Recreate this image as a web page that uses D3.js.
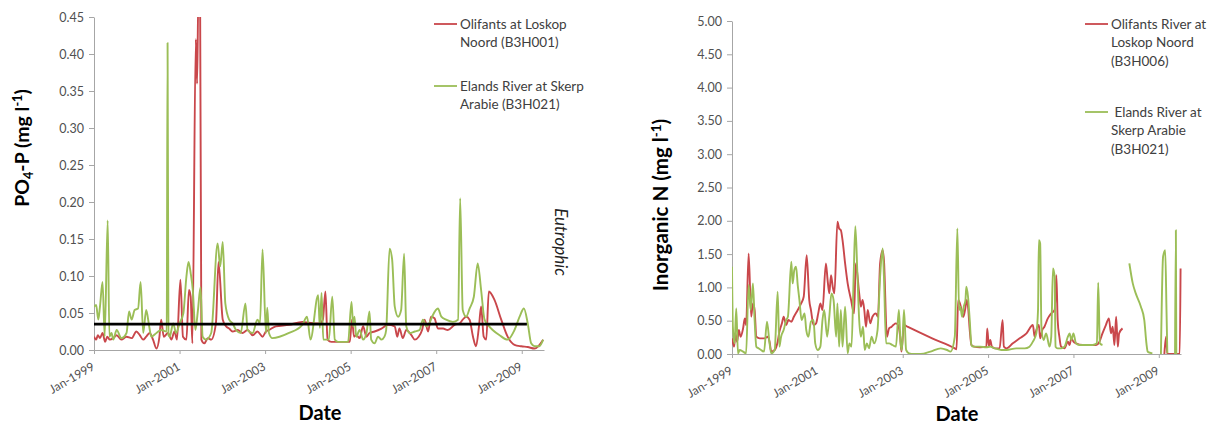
<!DOCTYPE html>
<html><head><meta charset="utf-8">
<script src="https://cdn.jsdelivr.net/npm/d3@7"></script>
<style>
body{margin:0;background:#fff}
svg{display:block}
text{font-family:Lato,"Open Sans","Liberation Sans",sans-serif}
</style>
</head><body>
<svg id="c" width="1214" height="430"></svg>
<script>
// ---------- DATA ----------
const xTickYears = [1999, 2001, 2003, 2005, 2007, 2009];
const xTickLabels = ["Jan-1999", "Jan-2001", "Jan-2003", "Jan-2005", "Jan-2007", "Jan-2009"];
const xDomain = [1999, 2009.52];
const po4Ticks = [0, 0.05, 0.10, 0.15, 0.20, 0.25, 0.30, 0.35, 0.40, 0.45];
const nTicks = [0, 0.5, 1.0, 1.5, 2.0, 2.5, 3.0, 3.5, 4.0, 4.5, 5.0];
const eutrophicLevel = 0.035;
const eutrophicSpan = [1999, 2009.12];

const po4LegendRed = ["Olifants at Loskop", "Noord (B3H001)"];
const po4LegendGreen = ["Elands River at Skerp", "Arabie (B3H021)"];
const nLegendRed = ["Olifants River at", "Loskop Noord", "(B3H006)"];
const nLegendGreen = [" Elands River at", "Skerp Arabie", "(B3H021)"];

// PO4-P, Olifants at Loskop Noord (B3H001)  [decimal year, mg/l]
const po4Olifants = [[1999.00,0.018],[1999.05,0.014],[1999.09,0.020],[1999.14,0.016],[1999.20,0.023],[1999.26,0.011],[1999.31,0.018],[1999.37,0.014],[1999.45,0.016],[1999.53,0.020],[1999.64,0.014],[1999.76,0.018],[1999.88,0.016],[1999.99,0.025],[2000.07,0.020],[2000.15,0.014],[2000.22,0.018],[2000.30,0.023],[2000.38,0.014],[2000.46,0.002],[2000.53,0.018],[2000.57,0.041],[2000.63,0.018],[2000.73,0.023],[2000.81,0.014],[2000.88,0.025],[2000.94,0.014],[2001.02,0.095],[2001.08,0.018],[2001.16,0.014],[2001.22,0.081],[2001.26,0.072],[2001.30,0.009],[2001.38,0.420],[2001.41,0.360],[2001.44,0.480],[2001.48,0.480],[2001.51,0.014],[2001.58,0.009],[2001.66,0.016],[2001.74,0.014],[2001.85,0.036],[2001.91,0.119],[2002.01,0.041],[2002.09,0.032],[2002.16,0.029],[2002.24,0.025],[2002.36,0.027],[2002.47,0.023],[2002.59,0.027],[2002.71,0.020],[2002.82,0.025],[2002.94,0.018],[2003.02,0.025],[2003.09,0.027],[2003.25,0.032],[2003.56,0.034],[2003.87,0.038],[2004.02,0.037],[2004.16,0.036],[2004.28,0.036],[2004.35,0.041],[2004.41,0.079],[2004.46,0.014],[2004.55,0.011],[2004.71,0.011],[2004.98,0.011],[2005.03,0.041],[2005.08,0.018],[2005.13,0.020],[2005.21,0.016],[2005.29,0.032],[2005.37,0.018],[2005.44,0.023],[2005.56,0.025],[2005.72,0.029],[2005.87,0.034],[2006.03,0.032],[2006.09,0.018],[2006.14,0.029],[2006.22,0.016],[2006.30,0.027],[2006.42,0.020],[2006.50,0.014],[2006.59,0.018],[2006.67,0.027],[2006.73,0.041],[2006.81,0.025],[2006.88,0.045],[2006.96,0.043],[2007.04,0.029],[2007.16,0.029],[2007.27,0.027],[2007.43,0.034],[2007.55,0.036],[2007.62,0.041],[2007.70,0.045],[2007.78,0.041],[2007.86,0.018],[2007.93,0.005],[2008.00,0.032],[2008.05,0.059],[2008.11,0.018],[2008.17,0.014],[2008.23,0.079],[2008.36,0.068],[2008.52,0.041],[2008.67,0.018],[2008.83,0.007],[2008.99,0.005],[2009.14,0.004],[2009.30,0.002],[2009.50,0.014]];

// PO4-P, Elands River at Skerp Arabie (B3H021)
const po4Elands = [[1999.00,0.058],[1999.05,0.061],[1999.10,0.041],[1999.14,0.059],[1999.20,0.092],[1999.25,0.018],[1999.32,0.175],[1999.36,0.018],[1999.41,0.023],[1999.45,0.014],[1999.53,0.027],[1999.64,0.016],[1999.76,0.023],[1999.82,0.052],[1999.88,0.041],[1999.95,0.054],[2000.03,0.056],[2000.09,0.092],[2000.15,0.023],[2000.22,0.054],[2000.29,0.032],[2000.34,0.018],[2000.46,0.023],[2000.57,0.027],[2000.70,0.025],[2000.72,0.415],[2000.74,0.020],[2000.77,0.018],[2000.85,0.036],[2000.92,0.023],[2001.00,0.036],[2001.09,0.050],[2001.16,0.099],[2001.21,0.119],[2001.26,0.104],[2001.31,0.081],[2001.37,0.027],[2001.43,0.054],[2001.49,0.085],[2001.54,0.018],[2001.62,0.014],[2001.74,0.023],[2001.89,0.144],[2001.95,0.113],[2002.01,0.146],[2002.07,0.063],[2002.16,0.041],[2002.24,0.036],[2002.32,0.027],[2002.43,0.023],[2002.54,0.063],[2002.59,0.027],[2002.71,0.023],[2002.82,0.041],[2002.88,0.036],[2002.94,0.136],[2003.02,0.023],[2003.05,0.057],[2003.09,0.023],[2003.17,0.016],[2003.56,0.023],[2003.87,0.034],[2003.98,0.045],[2004.06,0.014],[2004.24,0.074],[2004.28,0.030],[2004.32,0.077],[2004.36,0.014],[2004.49,0.014],[2004.57,0.072],[2004.63,0.014],[2004.71,0.011],[2004.94,0.011],[2005.02,0.065],[2005.06,0.032],[2005.09,0.045],[2005.13,0.018],[2005.21,0.027],[2005.29,0.014],[2005.37,0.023],[2005.44,0.052],[2005.48,0.014],[2005.56,0.009],[2005.64,0.018],[2005.72,0.014],[2005.79,0.018],[2005.83,0.027],[2005.91,0.137],[2005.97,0.122],[2006.03,0.059],[2006.11,0.045],[2006.18,0.054],[2006.25,0.130],[2006.30,0.032],[2006.38,0.023],[2006.50,0.025],[2006.61,0.027],[2006.69,0.041],[2006.77,0.032],[2006.84,0.036],[2006.92,0.047],[2007.04,0.056],[2007.12,0.045],[2007.23,0.041],[2007.39,0.038],[2007.51,0.041],[2007.56,0.205],[2007.62,0.054],[2007.70,0.045],[2007.78,0.056],[2007.88,0.072],[2007.97,0.117],[2008.05,0.081],[2008.13,0.041],[2008.21,0.034],[2008.32,0.027],[2008.48,0.020],[2008.67,0.014],[2008.83,0.027],[2008.95,0.045],[2009.05,0.056],[2009.14,0.036],[2009.22,0.009],[2009.30,0.005],[2009.41,0.005],[2009.50,0.014]];

// Inorganic N, Olifants River at Loskop Noord (B3H006)  (null = gap)
const nOlifants = [[1999.00,0.235],[1999.05,0.11],[1999.08,0.31],[1999.12,0.185],[1999.16,0.36],[1999.20,0.26],[1999.26,0.385],[1999.30,0.535],[1999.33,0.435],[1999.39,1.51],[1999.45,0.56],[1999.49,0.76],[1999.53,0.66],[1999.57,0.26],[1999.65,0.235],[1999.76,0.235],[1999.84,0.26],[1999.88,0.185],[1999.92,0.035],[2000.00,0.06],[2000.07,0.185],[2000.11,0.335],[2000.17,0.46],[2000.21,0.56],[2000.27,0.435],[2000.32,0.51],[2000.39,0.485],[2000.45,0.56],[2000.54,0.66],[2000.62,0.76],[2000.68,0.86],[2000.75,1.485],[2000.81,0.81],[2000.85,0.66],[2000.91,0.435],[2000.97,0.46],[2001.02,0.61],[2001.07,0.76],[2001.12,0.66],[2001.20,1.36],[2001.24,1.11],[2001.28,0.91],[2001.32,1.185],[2001.36,1.01],[2001.40,0.91],[2001.47,1.985],[2001.51,1.885],[2001.55,1.86],[2001.59,1.71],[2001.65,1.36],[2001.71,1.06],[2001.79,0.81],[2001.86,0.61],[2001.90,1.36],[2001.98,0.91],[2002.02,0.71],[2002.06,0.81],[2002.10,0.66],[2002.14,0.41],[2002.18,0.66],[2002.24,0.46],[2002.29,0.56],[2002.37,0.61],[2002.42,0.56],[2002.47,1.36],[2002.53,1.56],[2002.56,1.41],[2002.63,0.26],[2002.68,0.385],[2002.74,0.41],[2002.78,0.435],[2002.84,0.46],[2002.89,0.435],[2002.94,0.26],[2002.97,0.035],[2003.03,0.435],[2003.11,0.41],[2003.69,0.235],[2004.22,0.085],[2004.26,0.07],[2004.30,0.81],[2004.34,0.76],[2004.38,0.66],[2004.42,0.56],[2004.46,0.66],[2004.50,0.81],[2004.53,0.71],[2004.57,0.36],[2004.61,0.135],[2004.67,0.11],[2004.81,0.10],[2004.96,0.11],[2004.98,0.385],[2005.02,0.11],[2005.05,0.21],[2005.09,0.11],[2005.16,0.085],[2005.27,0.085],[2005.34,0.51],[2005.37,0.11],[2005.43,0.085],[2005.58,0.16],[2005.74,0.235],[2005.90,0.31],[2006.05,0.435],[2006.09,0.26],[2006.13,0.36],[2006.19,0.435],[2006.22,0.235],[2006.27,0.36],[2006.32,0.41],[2006.40,0.535],[2006.48,0.61],[2006.56,0.66],[2006.60,1.185],[2006.63,0.51],[2006.67,0.26],[2006.71,0.11],[2006.79,0.085],[2006.87,0.185],[2006.91,0.135],[2006.95,0.235],[2007.00,0.185],[2007.06,0.16],[2007.22,0.135],[2007.37,0.135],[2007.53,0.135],[2007.61,0.185],[2007.68,0.31],[2007.76,0.435],[2007.83,0.535],[2007.88,0.31],[2007.92,0.41],[2007.96,0.135],[2008.00,0.56],[2008.04,0.11],[2008.07,0.31],[2008.15,0.385],[2008.50,null],[2009.13,0.0],[2009.17,0.26],[2009.20,0.0],[2009.49,0.0],[2009.51,1.285]];

// Inorganic N, Elands River at Skerp Arabie (B3H021)
const nElands = [[1999.00,1.31],[1999.02,0.41],[1999.06,0.16],[1999.10,0.685],[1999.14,0.01],[1999.18,0.06],[1999.26,0.035],[1999.33,0.01],[1999.39,1.035],[1999.44,0.66],[1999.49,1.06],[1999.53,0.51],[1999.57,0.11],[1999.62,0.085],[1999.68,0.06],[1999.75,0.035],[1999.82,0.485],[1999.88,0.16],[1999.92,0.01],[2000.00,0.06],[2000.07,0.935],[2000.11,0.11],[2000.15,0.26],[2000.21,0.36],[2000.27,0.51],[2000.31,0.56],[2000.39,1.385],[2000.42,1.06],[2000.46,1.26],[2000.50,1.31],[2000.54,1.035],[2000.58,0.81],[2000.63,0.51],[2000.70,0.61],[2000.74,0.36],[2000.79,0.26],[2000.85,0.485],[2000.91,0.51],[2000.95,0.16],[2001.01,0.06],[2001.07,0.11],[2001.12,0.51],[2001.16,0.66],[2001.23,0.26],[2001.28,0.56],[2001.33,0.91],[2001.38,0.81],[2001.44,0.26],[2001.47,0.76],[2001.51,0.11],[2001.55,0.66],[2001.59,0.11],[2001.65,0.71],[2001.71,0.01],[2001.75,0.16],[2001.80,0.11],[2001.85,1.16],[2001.89,1.92],[2001.94,1.16],[2001.98,0.51],[2002.02,0.26],[2002.07,0.41],[2002.11,0.06],[2002.16,0.16],[2002.21,0.085],[2002.27,0.26],[2002.33,0.16],[2002.41,0.36],[2002.47,1.16],[2002.53,1.585],[2002.56,1.16],[2002.61,0.16],[2002.68,0.16],[2002.76,0.135],[2002.84,0.11],[2002.91,0.66],[2002.95,0.16],[2002.98,0.06],[2003.03,0.66],[2003.08,0.06],[2003.15,0.01],[2003.26,0.0],[2003.42,0.0],[2003.65,0.035],[2003.89,0.085],[2004.04,0.06],[2004.12,0.035],[2004.22,0.26],[2004.28,1.885],[2004.32,0.66],[2004.35,0.71],[2004.39,0.56],[2004.43,0.71],[2004.47,0.81],[2004.49,1.01],[2004.53,0.86],[2004.57,0.51],[2004.61,0.135],[2004.65,0.11],[2004.81,0.11],[2004.96,0.10],[2005.04,0.11],[2005.16,0.085],[2005.31,0.06],[2005.43,0.06],[2005.66,0.085],[2005.86,0.085],[2005.97,0.11],[2006.05,0.185],[2006.13,0.31],[2006.17,0.66],[2006.19,1.71],[2006.22,1.66],[2006.25,0.41],[2006.30,0.21],[2006.36,0.31],[2006.44,0.11],[2006.48,0.26],[2006.52,1.285],[2006.56,1.16],[2006.58,0.11],[2006.63,0.085],[2006.71,0.085],[2006.79,0.11],[2006.87,0.26],[2006.91,0.31],[2006.95,0.21],[2007.00,0.31],[2007.06,0.16],[2007.14,0.135],[2007.30,0.135],[2007.45,0.135],[2007.55,0.16],[2007.58,1.07],[2007.62,0.16],[2007.68,0.135],[2008.00,null],[2008.31,1.36],[2008.39,1.06],[2008.46,0.91],[2008.58,0.71],[2008.66,0.51],[2008.71,0.16],[2008.74,0.035],[2008.85,0.01],[2008.95,null],[2009.05,0.0],[2009.10,1.46],[2009.15,1.56],[2009.18,0.66],[2009.20,0.01],[2009.30,null],[2009.38,0.0],[2009.40,1.86],[2009.41,0.0]];

// ---------- DRAWING ----------
const RED = "#c9474b", GREEN = "#9bbe57", AXIS = "#a6a6a6", LABEL = "#505050", LEG = "#404040";
const svg = d3.select("#c");

function panel(cfg) {
  const x = d3.scaleLinear().domain(xDomain).range([cfg.left, cfg.right]);
  const y = d3.scaleLinear().domain(cfg.yDomain).range([cfg.bottom, cfg.top]);
  const g = svg.append("g");

  const ya = g.append("g").attr("transform", `translate(${cfg.left},0)`)
    .call(d3.axisLeft(y).tickValues(cfg.yTicks).tickFormat(d3.format(".2f")).tickSize(5).tickSizeOuter(0).tickPadding(5));
  ya.selectAll("path, line").attr("stroke", AXIS);
  ya.selectAll("text").attr("fill", LABEL).style("font-size", "12.5px").style("font-family", "Lato, sans-serif");

  const xa = g.append("g").attr("transform", `translate(0,${cfg.bottom})`)
    .call(d3.axisBottom(x).tickValues(xTickYears).tickFormat((d, i) => xTickLabels[i]).tickSize(4).tickSizeOuter(0));
  xa.selectAll("path, line").attr("stroke", AXIS);
  xa.selectAll("text").attr("fill", LABEL).style("font-size", "12px").style("font-family", "Lato, sans-serif")
    .attr("text-anchor", "end").attr("x", 0).attr("y", 0).attr("dy", 0)
    .attr("transform", "translate(1,19) rotate(-30)");

  const cid = "clip" + cfg.id;
  svg.append("clipPath").attr("id", cid).append("rect")
    .attr("x", cfg.left).attr("y", cfg.top).attr("width", cfg.right - cfg.left + 6).attr("height", cfg.bottom - cfg.top);
  const plot = g.append("g").attr("clip-path", `url(#${cid})`);

  const line = d3.line().defined(d => d[1] != null)
    .x(d => x(d[0])).y(d => y(d[1])).curve(d3.curveMonotoneX);
  cfg.series.forEach(s => {
    plot.append("path").datum(s.data).attr("d", line)
      .attr("fill", "none").attr("stroke", s.color).attr("stroke-width", 1.9)
      .attr("stroke-linejoin", "round");
  });

  if (cfg.threshold) {
    g.append("line").attr("x1", x(cfg.threshold.span[0])).attr("x2", x(cfg.threshold.span[1]))
      .attr("y1", y(cfg.threshold.level)).attr("y2", y(cfg.threshold.level))
      .attr("stroke", "#000").attr("stroke-width", 2.6);
  }

  const fs = cfg.yTitleSize, small = fs * 0.65;
  const yt = g.append("text").attr("transform", `translate(${cfg.yTitleX},${cfg.yTitleY}) rotate(-90)`)
    .attr("text-anchor", "middle").style("font-size", fs + "px").style("font-weight", "700").attr("fill", "#000");
  cfg.yTitle.forEach(p => {
    const t = yt.append("tspan").text(p.t);
    if (p.shift) t.style("font-size", small + "px");
    if (p.shift) t.attr("dy", p.shift);
    else if (p.back) t.attr("dy", p.back);
  });

  g.append("text").attr("x", cfg.xTitleX).attr("y", cfg.xTitleY).attr("text-anchor", "middle")
    .style("font-size", "20px").style("font-weight", "700").attr("fill", "#000").text("Date");

  cfg.legend.forEach(L => {
    g.append("line").attr("x1", L.x).attr("x2", L.x + 23).attr("y1", L.y).attr("y2", L.y)
      .attr("stroke", L.color).attr("stroke-width", 1.8);
    L.lines.forEach((txt, i) => {
      g.append("text").attr("x", L.x + 26).attr("y", L.y + i * 18.5).attr("dy", "0.35em")
        .style("font-size", "13.5px").attr("fill", LEG).style("white-space", "pre").attr("xml:space", "preserve").text(txt);
    });
  });
  return {x, y, g};
}

const p1 = panel({
  id: 1, left: 94, right: 544, top: 17, bottom: 350, yDomain: [0, 0.45], yTicks: po4Ticks,
  series: [{data: po4Olifants, color: RED}, {data: po4Elands, color: GREEN}],
  threshold: {level: eutrophicLevel, span: eutrophicSpan},
  yTitle: [{t: "PO"}, {t: "4", shift: 4}, {t: "-P (mg l", back: -4}, {t: "-1", shift: -7}, {t: ")", back: 7}],
  yTitleX: 29, yTitleY: 148, yTitleSize: 19.5,
  xTitleX: 320, xTitleY: 420,
  legend: [{x: 434, y: 24, color: RED, lines: po4LegendRed}, {x: 434, y: 86, color: GREEN, lines: po4LegendGreen}]
});
p1.g.append("text").attr("transform", "translate(555,242) rotate(90)").attr("text-anchor", "middle")
  .style("font-size", "17px").style("font-style", "italic").attr("fill", "#222").text("Eutrophic");

panel({
  id: 2, left: 732, right: 1181, top: 21, bottom: 354, yDomain: [0, 5], yTicks: nTicks,
  series: [{data: nOlifants, color: RED}, {data: nElands, color: GREEN}],
  yTitle: [{t: "Inorganic N (mg l"}, {t: "-1", shift: -7}, {t: ")", back: 7}],
  yTitleX: 668, yTitleY: 205, yTitleSize: 20.5,
  xTitleX: 957, xTitleY: 421,
  legend: [{x: 1085, y: 24, color: RED, lines: nLegendRed}, {x: 1085, y: 112, color: GREEN, lines: nLegendGreen}]
});
</script>
</body></html>
